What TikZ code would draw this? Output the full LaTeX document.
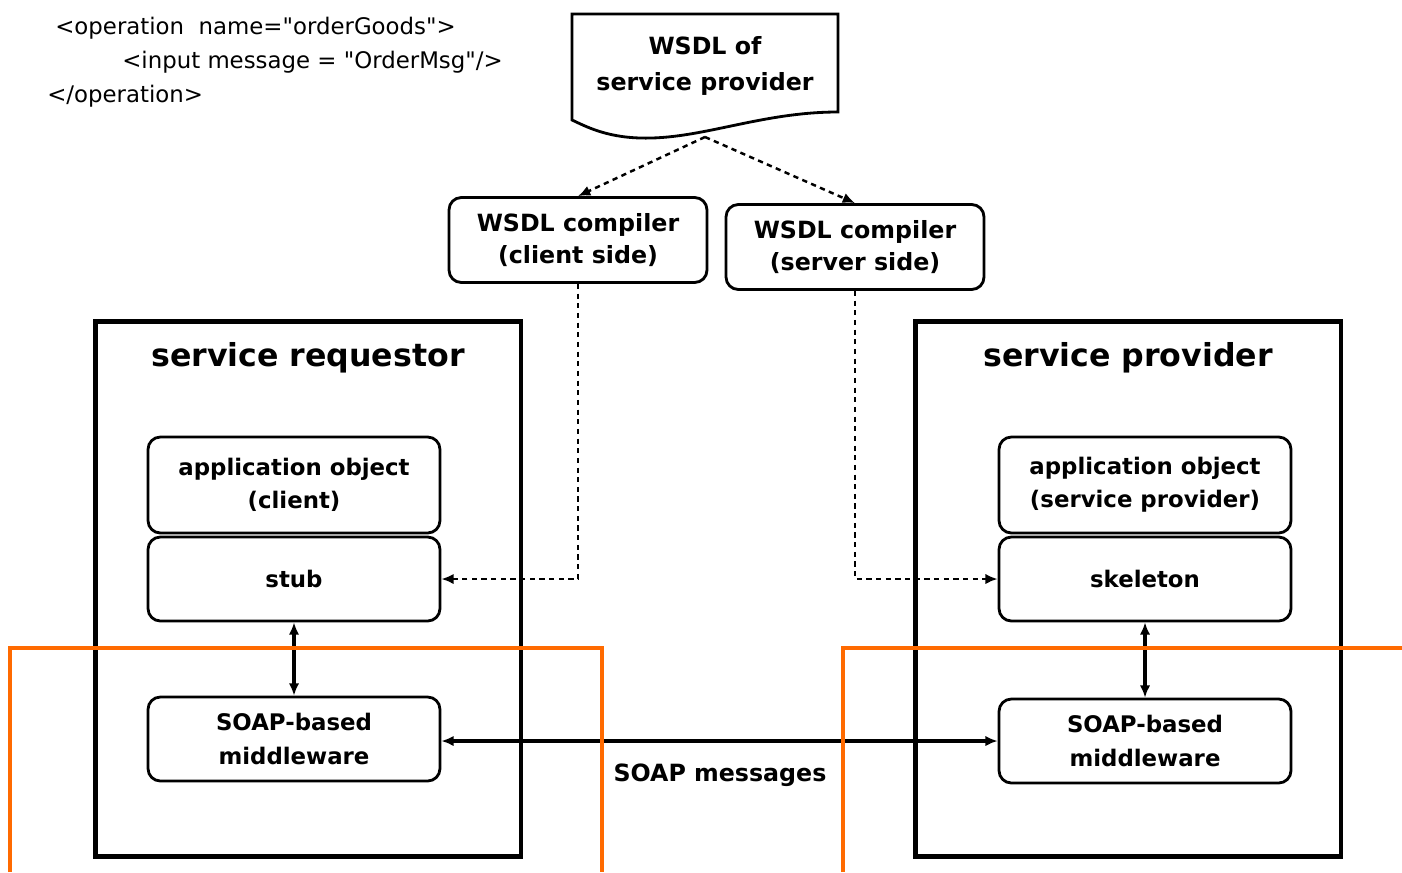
\documentclass[tikz,border=0pt]{standalone}
\usepackage{fontspec}
\setmainfont{DejaVu Sans}
\newfontfamily\codefont{DejaVu Sans}
\usetikzlibrary{arrows.meta,positioning}

\definecolor{markorange}{HTML}{FF6A00}

\tikzset{
  roundbox/.style={draw, line width=1.6pt, rounded corners=7pt, minimum width=5.84cm,
    minimum height=1.68cm, align=center, inner sep=2pt,
    font=\bfseries\fontsize{13}{19}\selectfont},
  compbox/.style={roundbox, minimum width=5.16cm, minimum height=1.7cm,
    font=\bfseries\fontsize{13.5}{18}\selectfont},
  bigbox/.style={draw, line width=2.8pt, minimum width=8.52cm, minimum height=10.7cm},
  titletext/.style={font=\bfseries\fontsize{18}{20}\selectfont},
  codetext/.style={anchor=west, inner sep=0pt, font=\codefont\fontsize{13}{15}\selectfont},
  dasharrow/.style={dash pattern=on 3pt off 2.5pt, line width=1.4pt, -{Latex[length=7pt,width=6pt]}},
  bothway/.style={line width=1.8pt, {Latex[length=7pt,width=6pt]}-{Latex[length=7pt,width=6pt]}},
  markline/.style={draw=markorange, line width=2.4pt}
}

\begin{document}
\begin{tikzpicture}[x=0.02cm,y=-0.02cm]
    \useasboundingbox (0,0) rectangle (1402,872);

    % operation fragment
    \node[codetext] (code1) at (55,28) {<operation\ \ name="orderGoods">};
    \node[codetext] (code2) at (122,62) {<input message = "OrderMsg"/>};
    \node[codetext] (code3) at (47,96) {</operation>};

    % WSDL document
    \draw[line width=1.6pt] (572,14) -- (838,14) -- (838,112)
        .. controls (760,112) and (700,140) .. (640,138)
        .. controls (605,137) and (585,126) .. (572,120) -- cycle;
    \node[align=center, font=\bfseries\fontsize{13.5}{21}\selectfont] (wsdl) at (705,66) {WSDL of\\service provider};
    \coordinate (wsdlfoot) at (705,137);

    % compilers
    \node[compbox] (client) at (578,240) {WSDL compiler\\(client side)};
    \node[compbox] (server) at (855,247) {WSDL compiler\\(server side)};

    % service requestor
    \node[bigbox] (requestor) at (308,589) {};
    \node[titletext] (reqtitle) at (308,358) {service requestor};
    \node[roundbox, minimum height=1.92cm] (appclient) at (294,485) {application object\\(client)};
    \node[roundbox] (stub) at (294,579) {stub};
    \node[roundbox] (reqmw) at (294,739) {SOAP-based\\middleware};

    % service provider
    \node[bigbox] (provider) at (1128,589) {};
    \node[titletext] (provtitle) at (1128,358) {service provider};
    \node[roundbox, minimum height=1.92cm] (appserver) at (1145,485) {application object\\(service provider)};
    \node[roundbox] (skeleton) at (1145,579) {skeleton};
    \node[roundbox] (provmw) at (1145,741) {SOAP-based\\middleware};

    % connectors
    \draw[dasharrow] (wsdlfoot) -- (client.north);
    \draw[dasharrow] (wsdlfoot) -- (server.north);
    \draw[dasharrow] (client.south) |- (stub.east);
    \draw[dasharrow] (server.south) |- (skeleton.west);
    \draw[bothway] (stub.south) -- (reqmw.north);
    \draw[bothway] (skeleton.south) -- (provmw.north);
    \draw[bothway] (reqmw.east |- provmw.west) -- (provmw.west);
    \node[font=\bfseries\fontsize{13.5}{16}\selectfont] (soapmsg) at (720,775) {SOAP messages};

    % highlight frames
    \draw[markline] (10,872) -- (10,648) -- (602,648) -- (602,872);
    \draw[markline] (843,872) -- (843,648) -- (1402,648);
\end{tikzpicture}
\end{document}
